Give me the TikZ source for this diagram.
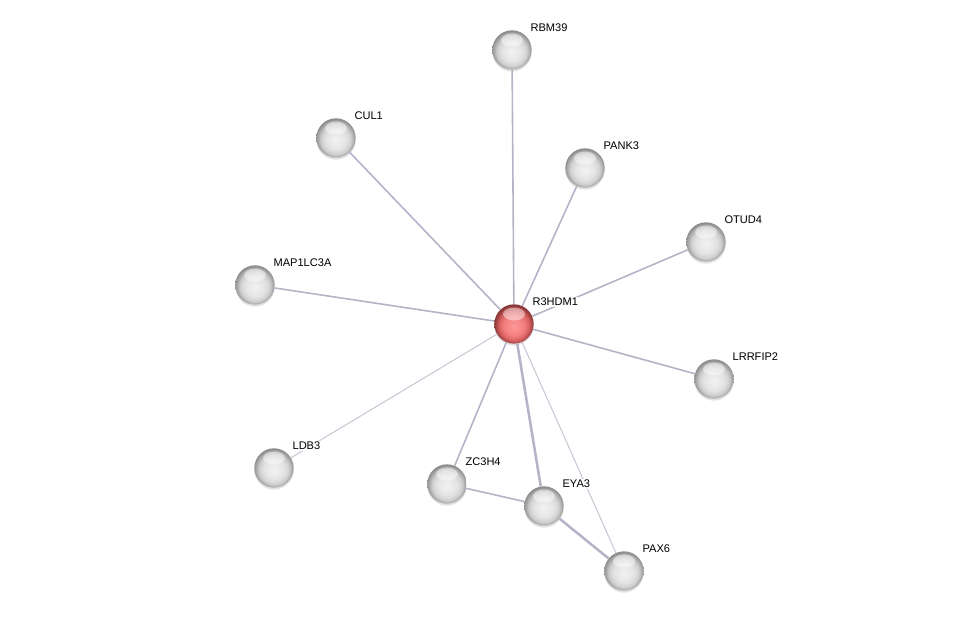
\documentclass[tikz,border=0pt]{standalone}
\usepackage{fontspec}
\setmainfont{Liberation Sans}
\usetikzlibrary{calc,shadows}
\definecolor{edge}{HTML}{B4B4C8}
\definecolor{edgelight}{HTML}{C8C8D6}
\pgfdeclareradialshading{greyglass}{\pgfqpoint{0bp}{-3bp}}{color(0bp)=(white!95!black); color(13bp)=(white!89!black); color(19bp)=(white!81!black); color(24bp)=(white!62!black); color(28bp)=(white!48!black); color(50bp)=(white!48!black)}
\pgfdeclareradialshading{redglass}{\pgfqpoint{0bp}{-3bp}}{color(0bp)=(red!40!white); color(13bp)=(red!48!white!95!black); color(19bp)=(red!55!white!85!black); color(24bp)=(red!60!white!60!black); color(28bp)=(red!60!white!45!black); color(50bp)=(red!60!white!45!black)}

\begin{document}
\begin{tikzpicture}[x=0.75pt,y=-0.75pt,
  prot/.style={circle,minimum size=29.5pt,inner sep=0pt,shading=greyglass,
    drop shadow={shadow xshift=0pt,shadow yshift=-1.5pt,opacity=0.22},
    path picture={\fill[white,opacity=0.45] ($(path picture bounding box.center)+(0,-10)$) ellipse (11 and 6.5);}},
  hubprot/.style={prot,shading=redglass},
  plabel/.style={anchor=west,inner sep=1pt,fill=white,fill opacity=0.85,text opacity=1,font=\fontsize{8.3}{10}\selectfont},
  link/.style={draw=edge,line width=1.2pt},
  thinlink/.style={draw=edgelight,line width=0.8pt},
  boldlink/.style={draw=edge,line width=1.9pt}]
\useasboundingbox (0,0) rectangle (975,617);
% proteins
\node[hubprot] (r3hdm1) at (514,324) {};
\node[prot] (rbm39) at (512,50) {};
\node[prot] (cul1) at (336,138) {};
\node[prot] (pank3) at (585,168) {};
\node[prot] (otud4) at (706,242) {};
\node[prot] (map1lc3a) at (255,285) {};
\node[prot] (lrrfip2) at (714,379) {};
\node[prot] (ldb3) at (274,468) {};
\node[prot] (zc3h4) at (447,484) {};
\node[prot] (eya3) at (544,506) {};
\node[prot] (pax6) at (624,571) {};
% interactions
\draw[link] (r3hdm1)--(rbm39); \draw[link] (r3hdm1)--(cul1);
\draw[link] (r3hdm1)--(pank3); \draw[link] (r3hdm1)--(otud4);
\draw[link] (r3hdm1)--(map1lc3a); \draw[link] (r3hdm1)--(lrrfip2);
\draw[thinlink] (r3hdm1)--(ldb3); \draw[link] (r3hdm1)--(zc3h4);
\draw[boldlink] (r3hdm1)--(eya3); \draw[thinlink] (r3hdm1)--(pax6);
\draw[link] (zc3h4)--(eya3); \draw[boldlink] (eya3)--(pax6);
% labels
\node[plabel] (r3hdm1-l) at ($(r3hdm1)+(17,-22)$) {R3HDM1};
\node[plabel] (rbm39-l) at ($(rbm39)+(17,-22)$) {RBM39};
\node[plabel] (cul1-l) at ($(cul1)+(17,-22)$) {CUL1};
\node[plabel] (pank3-l) at ($(pank3)+(17,-22)$) {PANK3};
\node[plabel] (otud4-l) at ($(otud4)+(17,-22)$) {OTUD4};
\node[plabel] (map1lc3a-l) at ($(map1lc3a)+(17,-22)$) {MAP1LC3A};
\node[plabel] (lrrfip2-l) at ($(lrrfip2)+(17,-22)$) {LRRFIP2};
\node[plabel] (ldb3-l) at ($(ldb3)+(17,-22)$) {LDB3};
\node[plabel] (zc3h4-l) at ($(zc3h4)+(17,-22)$) {ZC3H4};
\node[plabel] (eya3-l) at ($(eya3)+(17,-22)$) {EYA3};
\node[plabel] (pax6-l) at ($(pax6)+(17,-22)$) {PAX6};
\end{tikzpicture}
\end{document}
